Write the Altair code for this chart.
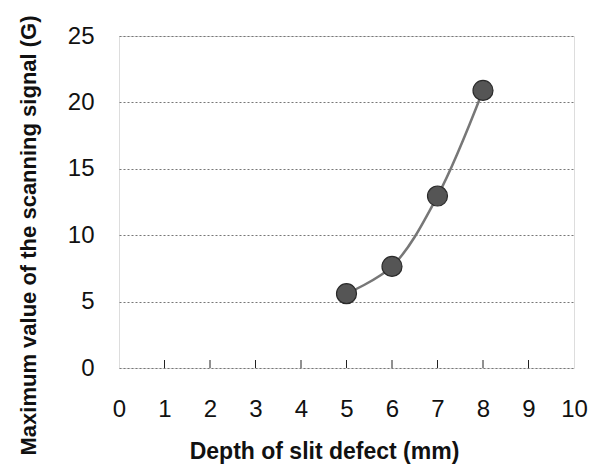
import altair as alt
import pandas as pd

# Measured maximum scanning signal for each slit depth
depth_mm = [5, 6, 7, 8]
signal_g = [5.6, 7.65, 12.95, 20.9]

x_ticks = [0, 1, 2, 3, 4, 5, 6, 7, 8, 9, 10]
y_ticks = [0, 5, 10, 15, 20, 25]

W, H = 455, 332
FONT = "Liberation Sans"

df = pd.DataFrame({"depth": depth_mm, "signal": signal_g})
ticks_df = pd.DataFrame({"depth": x_ticks[1:-1]})

x_scale = alt.Scale(domain=[0, 10], nice=False, zero=False)
y_scale = alt.Scale(domain=[0, 25], nice=False)

x_enc = alt.X(
    "depth:Q",
    scale=x_scale,
    axis=alt.Axis(
        values=x_ticks,
        title="Depth of slit defect (mm)",
        grid=False,
        ticks=False,
        domain=False,
        labelFontSize=24,
        labelPadding=29,
        labelFont=FONT,
        labelColor="#111",
        titleFont=FONT,
        titleFontSize=23,
        titleFontWeight="bold",
        titleColor="#111",
        titleBaseline="middle",
        titleX=205,
        titleY=83,
        labelFlush=False,
    ),
)

y_enc = alt.Y(
    "signal:Q",
    scale=y_scale,
    axis=alt.Axis(
        values=y_ticks,
        title="Maximum value of the scanning signal (G)",
        grid=True,
        gridColor="#777",
        gridDash=[2, 2],
        gridWidth=1,
        ticks=False,
        domain=False,
        labelFontSize=24,
        labelPadding=25,
        labelFont=FONT,
        labelColor="#111",
        labelBaseline="middle",
        titleFont=FONT,
        titleFontSize=22,
        titleFontWeight="bold",
        titleColor="#111",
        titleAngle=270,
        titleBaseline="middle",
        titleX=-91,
        titleY=199,
    ),
)

curve = alt.Chart(df).mark_line(
    interpolate="catmull-rom", color="#777", strokeWidth=2.5
).encode(x=x_enc, y=y_enc)

dots = alt.Chart(df).mark_point(
    filled=True, shape="circle", size=400, fill="#555", stroke="#2a2a2a",
    strokeWidth=1.2, opacity=1
).encode(x="depth:Q", y="signal:Q")

inner_ticks = alt.Chart(ticks_df).mark_rule(color="#222", strokeWidth=1).encode(
    x="depth:Q", y=alt.value(H), y2=alt.value(H - 8)
)

chart = (
    alt.layer(curve, inner_ticks, dots)
    .properties(
        width=W,
        height=H,
        autosize=alt.AutoSizeParams(type="none"),
        padding={"left": 119, "top": 36, "right": 25, "bottom": 96},
    )
    .configure_view(stroke="#111", strokeWidth=1.5)
    .configure(background="white")
)

chart.save("out.html", embed_options={"renderer": "svg", "actions": False})
